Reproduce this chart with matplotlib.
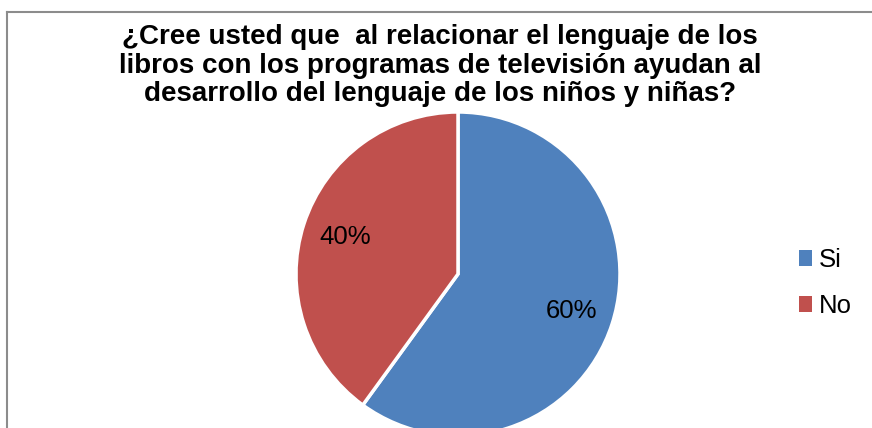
import matplotlib.pyplot as plt
from matplotlib.lines import Line2D
from matplotlib.patches import Patch

labels = ["Si", "No"]
values = [60, 40]
colors = ["#4F81BD", "#C0504D"]
title = ("¿Cree usted que  al relacionar el lenguaje de los\n"
         "libros con los programas de televisión ayudan al\n"
         "desarrollo del lenguaje de los niños y niñas?")

plt.rcParams['font.family'] = ['Liberation Sans', 'DejaVu Sans']

W, H = 872, 428
fig = plt.figure(figsize=(W / 100, H / 100), dpi=100)
ax = fig.add_axes([0, 0, 1, 1])
ax.set_xlim(0, W)
ax.set_ylim(0, H)
ax.axis('off')

wedges, texts, autotexts = ax.pie(values, colors=colors, startangle=90, counterclock=False,
                                  center=(458, H - 274), radius=162, autopct='%1.0f%%',
                                  pctdistance=0.735, wedgeprops=dict(edgecolor='white', linewidth=2.5),
                                  textprops=dict(fontsize=18.5, color='black'))
ax.set_xlim(0, W)
ax.set_ylim(0, H)

fig.text(440 / W, 1 - 24 / H, title, ha='center', va='top', fontsize=20,
         fontweight='bold', linespacing=1.13)

handles = [Patch(facecolor=c) for c in colors]
ax.legend(handles, labels, loc='center left', bbox_to_anchor=(799 / W, 1 - 283 / H),
          frameon=False, fontsize=18.5, handlelength=0.52, handleheight=0.6,
          handletextpad=0.25, labelspacing=0.85, borderpad=0, borderaxespad=0)

# chart border
fig.add_artist(Line2D([7 / W, 1], [1 - 12 / H, 1 - 12 / H], color='#8c8c8c', lw=1.5))
fig.add_artist(Line2D([7 / W, 7 / W], [0, 1 - 12 / H], color='#8c8c8c', lw=1.5))

plt.savefig('out.png', dpi=100)
